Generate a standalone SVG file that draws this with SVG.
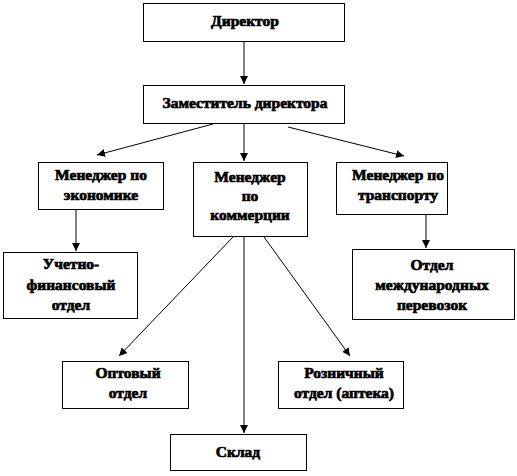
<svg xmlns="http://www.w3.org/2000/svg" width="517" height="476" viewBox="0 0 517 476">
<defs>
<marker id="ah" viewBox="0 0 10 10" refX="10" refY="5" markerWidth="8" markerHeight="8" markerUnits="userSpaceOnUse" orient="auto">
<path d="M0,0 L10,5 L0,10 z" fill="#000"/>
</marker>
<style>
rect{fill:#fff;stroke:#000;stroke-width:1}
text{font-family:'Liberation Serif','DejaVu Serif','Times New Roman',serif;font-weight:bold;font-size:15.5px;fill:#000;stroke:#000;stroke-width:0.7;text-anchor:middle}
.c line{stroke:#000;stroke-width:1;fill:none}
</style>
</defs>
<rect x="0" y="0" width="517" height="476" style="fill:#fff;stroke:none"/>
<g class="c" id="connectors">
<line x1="244" y1="41" x2="244" y2="84" marker-end="url(#ah)"/>
<line x1="213" y1="124" x2="97" y2="155" marker-end="url(#ah)"/>
<line x1="244" y1="124" x2="244" y2="161" marker-end="url(#ah)"/>
<line x1="288" y1="127" x2="404" y2="156" marker-end="url(#ah)"/>
<line x1="76" y1="209" x2="76" y2="251" marker-end="url(#ah)"/>
<line x1="426" y1="214" x2="426" y2="248" marker-end="url(#ah)"/>
<line x1="233" y1="237" x2="119" y2="356" marker-end="url(#ah)"/>
<line x1="244" y1="237" x2="244" y2="433" marker-end="url(#ah)"/>
<line x1="264" y1="237" x2="350" y2="356" marker-end="url(#ah)"/>
</g>
<g id="director">
<rect x="143.5" y="3.5" width="201" height="38"/>
<text x="245" y="26">Директор</text>
</g>
<g id="deputy">
<rect x="143.5" y="85.5" width="201" height="38"/>
<text x="245" y="108">Заместитель директора</text>
</g>
<g id="econ">
<rect x="38.5" y="162.5" width="125" height="47"/>
<text x="101" y="180">Менеджер по</text>
<text x="101" y="200">экономике</text>
</g>
<g id="comm">
<rect x="193.5" y="162.5" width="114" height="74"/>
<text x="250" y="182">Менеджер</text>
<text x="250" y="201">по</text>
<text x="250" y="220">коммерции</text>
</g>
<g id="trans">
<rect x="336.5" y="162.5" width="111" height="52"/>
<text x="398" y="180">Менеджер по</text>
<text x="398" y="200">транспорту</text>
</g>
<g id="finance">
<rect x="3.5" y="252.5" width="134" height="66"/>
<text x="71" y="269">Учетно-</text>
<text x="71" y="290">финансовый</text>
<text x="71" y="310">отдел</text>
</g>
<g id="intl">
<rect x="352.5" y="249.5" width="162" height="70"/>
<text x="432" y="270">Отдел</text>
<text x="432" y="290">международных</text>
<text x="432" y="310">перевозок</text>
</g>
<g id="wholesale">
<rect x="62.5" y="361.5" width="126" height="47"/>
<text x="128" y="378">Оптовый</text>
<text x="128" y="398">отдел</text>
</g>
<g id="retail">
<rect x="278.5" y="361.5" width="125" height="47"/>
<text x="344" y="378">Розничный</text>
<text x="344" y="398">отдел (аптека)</text>
</g>
<g id="warehouse">
<rect x="170.5" y="434.5" width="136" height="36"/>
<text x="238" y="457">Склад</text>
</g>
</svg>
